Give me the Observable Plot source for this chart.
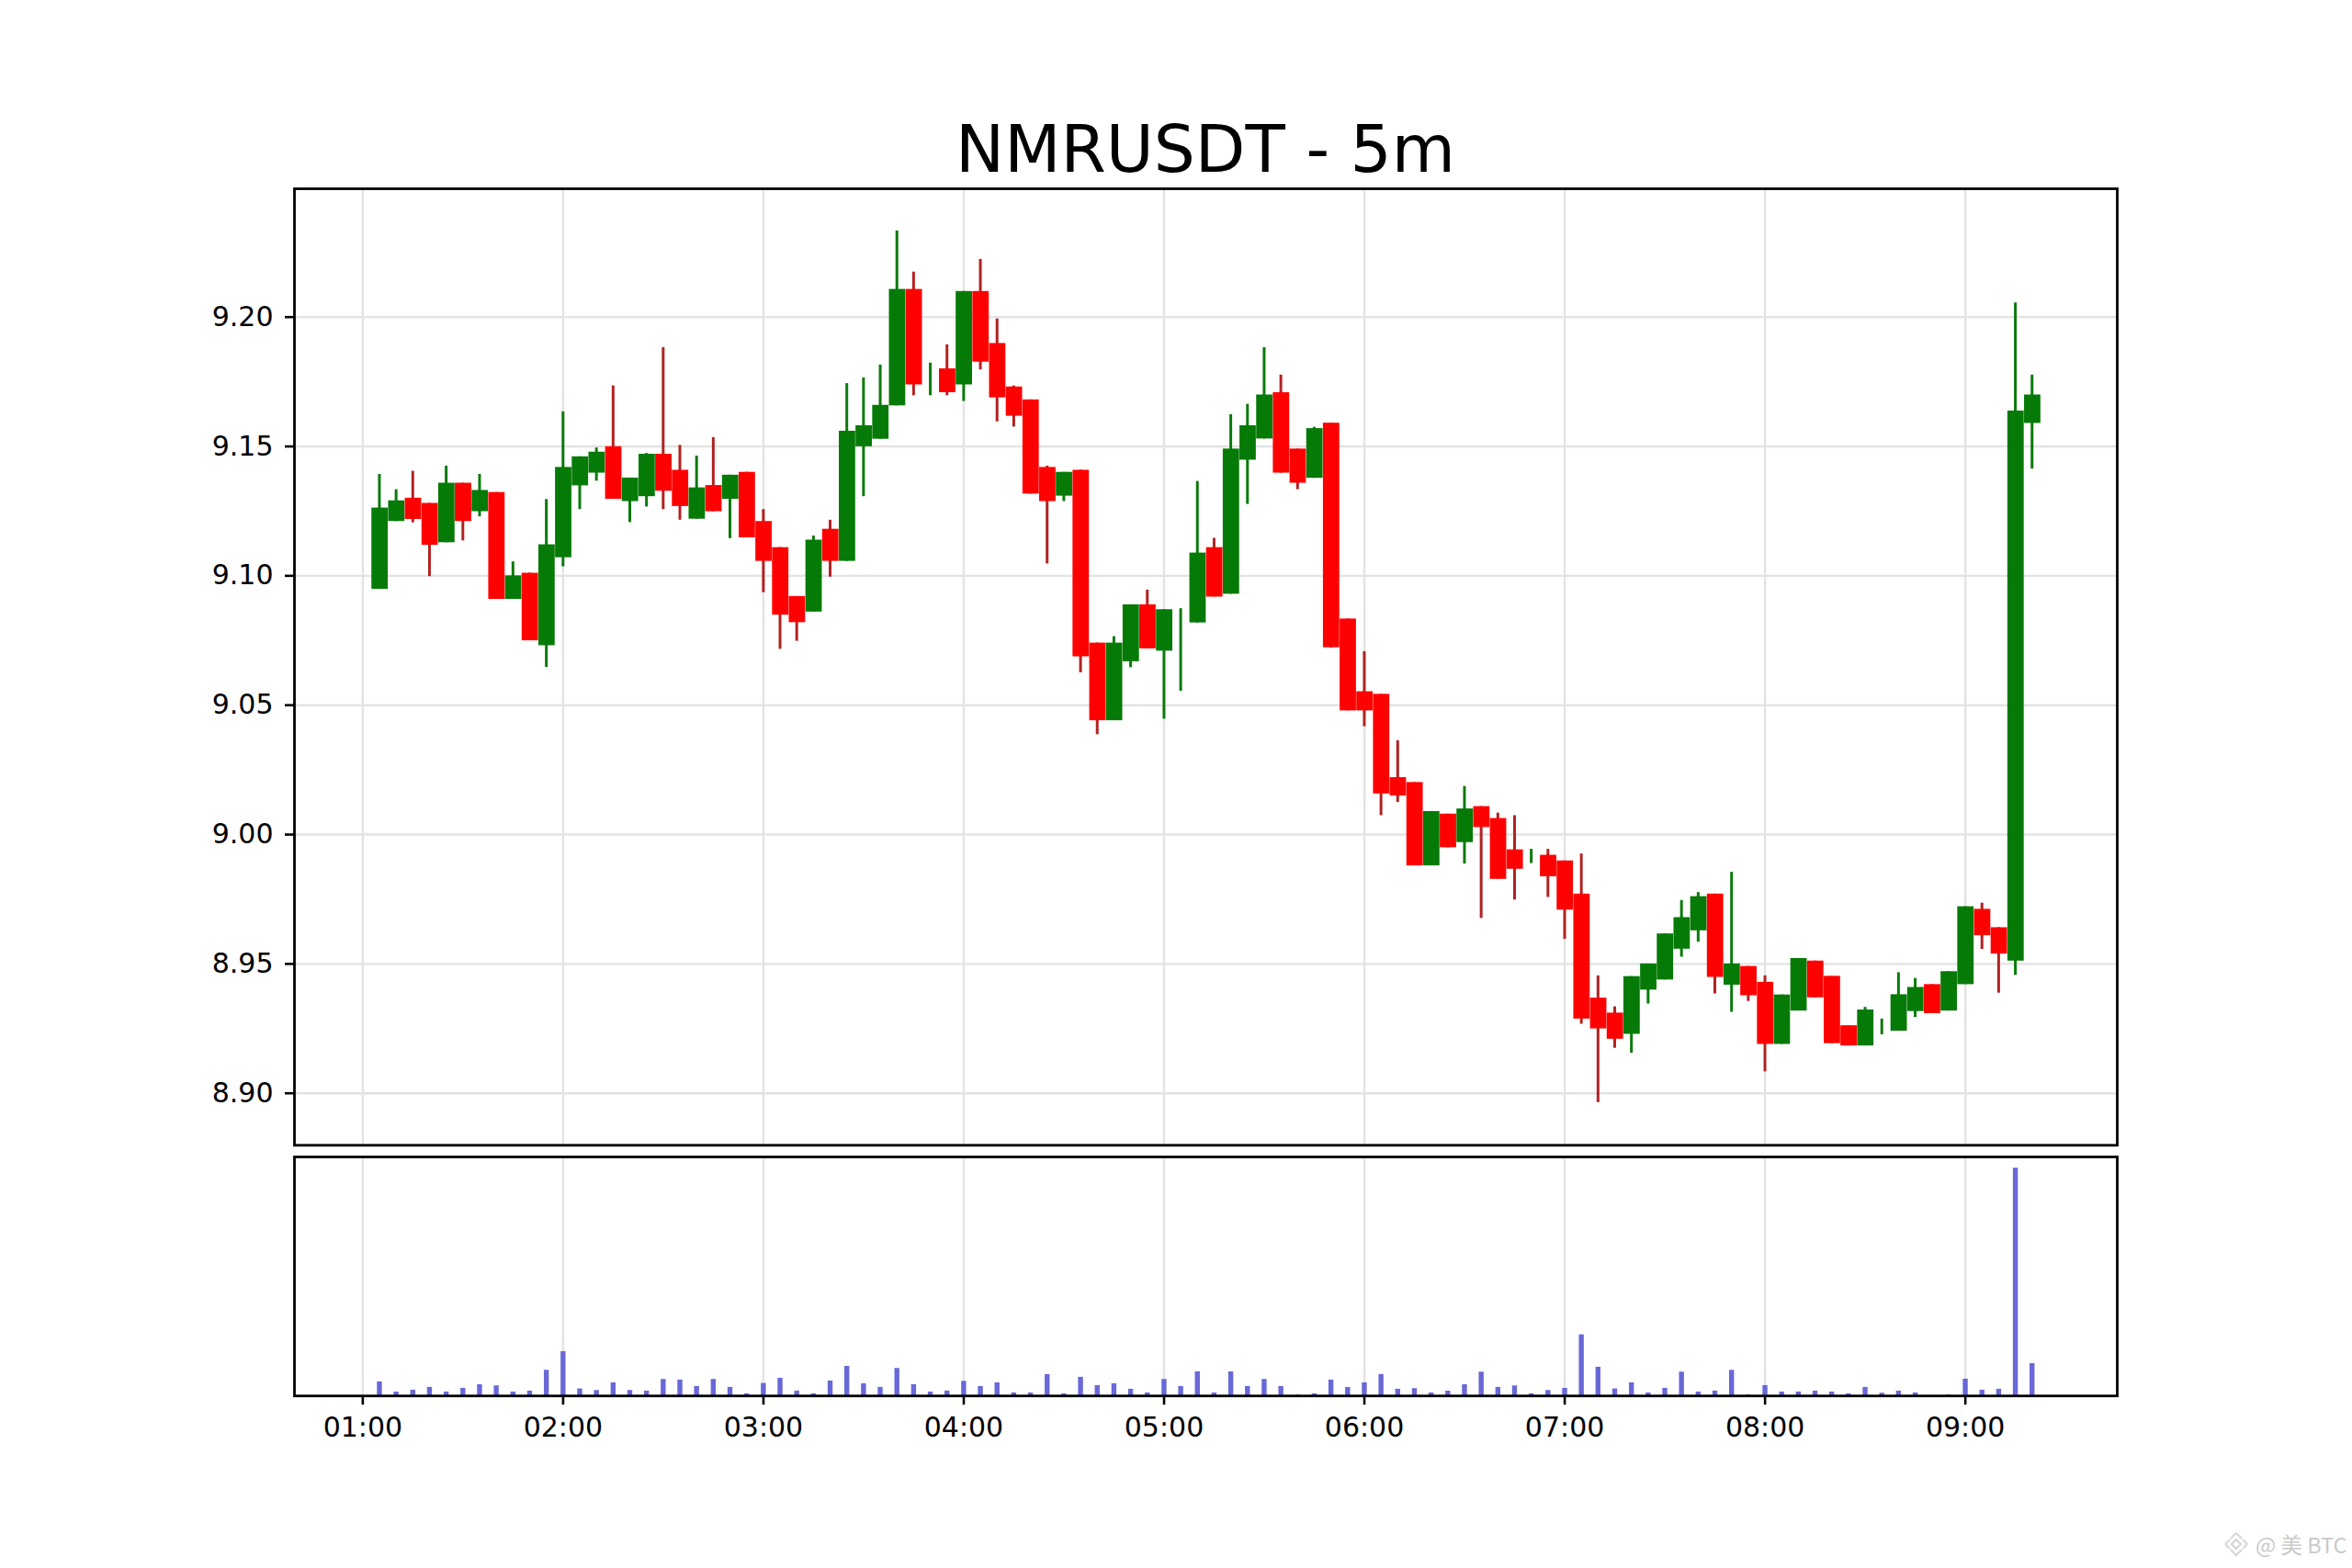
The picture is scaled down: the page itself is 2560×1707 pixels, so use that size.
<!DOCTYPE html>
<html>
<head>
<meta charset="utf-8">
<script src="https://cdn.jsdelivr.net/npm/d3@7"></script>
<script src="https://cdn.jsdelivr.net/npm/@observablehq/plot@0.6"></script>
<style>
html,body{margin:0;padding:0;background:#fff;}
#page{position:relative;width:2560px;height:1707px;overflow:hidden;font-family:"DejaVu Sans",sans-serif;}
#title{box-sizing:border-box;height:203px;padding-top:126.7px;margin-left:320px;width:1984px;text-align:center;font-size:71px;line-height:71px;color:#000;white-space:nowrap;}
#mark{position:absolute;left:2455px;top:1666px;font-family:"Noto Sans CJK SC","Noto Sans",sans-serif;font-size:23.5px;line-height:30px;color:#cacaca;white-space:nowrap;}
#logo{position:absolute;left:2419px;top:1666px;}
</style>
</head>
<body>
<div id="page">
<div id="title">NMRUSDT - 5m</div>
<svg id="logo" width="30" height="30" viewBox="0 0 30 30" fill="none" stroke="#d8d8d8" stroke-width="2.4">
<path d="M15 3 L21 9 M15 3 L9 9 M3 15 L8 10 M27 15 L22 10 M3 15 L8 20 M27 15 L22 20 M9 21 L15 27 L21 21"/>
<rect x="11.5" y="11.5" width="7" height="7" transform="rotate(45 15 15)"/>
</svg>
<div id="mark">@ 美 BTC</div>
</div>
<script>
const times = ["01:05","01:10","01:15","01:20","01:25","01:30","01:35","01:40","01:45","01:50","01:55","02:00",
"02:05","02:10","02:15","02:20","02:25","02:30","02:35","02:40","02:45","02:50","02:55","03:00",
"03:05","03:10","03:15","03:20","03:25","03:30","03:35","03:40","03:45","03:50","03:55","04:00",
"04:05","04:10","04:15","04:20","04:25","04:30","04:35","04:40","04:45","04:50","04:55","05:00",
"05:05","05:10","05:15","05:20","05:25","05:30","05:35","05:40","05:45","05:50","05:55","06:00",
"06:05","06:10","06:15","06:20","06:25","06:30","06:35","06:40","06:45","06:50","06:55","07:00",
"07:05","07:10","07:15","07:20","07:25","07:30","07:35","07:40","07:45","07:50","07:55","08:00",
"08:05","08:10","08:15","08:20","08:25","08:30","08:35","08:40","08:45","08:50","08:55","09:00",
"09:05","09:10","09:15","09:20"];
const open = [9.0948,9.121,9.13,9.128,9.1128,9.1358,9.1248,9.1322,9.0909,9.101,
9.073,9.107,9.1348,9.1397,9.1499,9.1287,9.1306,9.147,9.1408,9.1219,
9.1349,9.1296,9.14,9.121,9.1109,9.092,9.086,9.118,9.1056,9.1499,
9.1528,9.1657,9.2107,9.175,9.18,9.1738,9.2099,9.1898,9.173,9.168,
9.1419,9.1308,9.1408,9.074,9.044,9.0668,9.0888,9.0709,9.07,9.0818,
9.1109,9.0929,9.1447,9.1529,9.1708,9.149,9.1377,9.159,9.0833,9.0552,
9.0542,9.022,9.0201,8.9879,9.0079,8.9969,9.0108,9.0062,8.9941,8.9915,
8.992,8.9898,8.977,8.9368,8.931,8.9228,8.9399,8.9438,8.9557,8.9628,
8.977,8.9418,8.949,8.9429,8.9189,8.9318,8.9511,8.9452,8.9261,8.9183,
8.9255,8.924,8.9316,8.942,8.9318,8.942,8.9711,8.964,8.9511,9.1589];
const close = [9.1262,9.129,9.1218,9.1118,9.1358,9.121,9.133,9.0909,9.1,9.0749,
9.112,9.1419,9.146,9.1478,9.1296,9.1378,9.147,9.1327,9.1268,9.134,
9.1248,9.1389,9.1147,9.1056,9.0848,9.0819,9.1138,9.1056,9.1559,9.158,
9.1659,9.2107,9.1738,9.175,9.1708,9.2099,9.1826,9.1688,9.1617,9.1316,
9.1287,9.14,9.0687,9.044,9.074,9.0888,9.0718,9.0869,9.07,9.1088,
9.0918,9.149,9.158,9.1699,9.1397,9.1358,9.1569,9.0722,9.0478,9.0478,
9.0157,9.0149,8.9879,9.0089,8.9949,9.0099,9.0027,8.9827,8.9866,8.9915,
8.9837,8.9708,8.9287,8.9249,8.9209,8.9451,8.95,8.9616,8.9679,8.976,
8.9448,8.95,8.9377,8.9189,8.938,8.9521,8.9369,8.9192,8.9183,8.9322,
8.9255,8.9381,8.9409,8.9308,8.947,8.9721,8.9609,8.9538,9.1637,9.1699];
const high = [9.1392,9.1333,9.1404,9.128,9.1424,9.1358,9.1392,9.1322,9.1054,9.101,
9.1295,9.1634,9.146,9.1494,9.1734,9.1378,9.1473,9.1882,9.1504,9.1463,
9.1534,9.1389,9.14,9.1256,9.1109,9.092,9.1154,9.1215,9.1743,9.1765,
9.1815,9.2333,9.2174,9.1822,9.1893,9.2099,9.2223,9.1993,9.1734,9.168,
9.1424,9.14,9.1408,9.074,9.0765,9.0888,9.0945,9.0869,9.0873,9.1365,
9.1145,9.1623,9.1663,9.1882,9.1776,9.149,9.1574,9.159,9.0833,9.0707,
9.0542,9.0363,9.0201,9.0089,9.0079,9.0186,9.0108,9.0083,9.0073,8.9943,
8.9943,8.9898,8.9925,8.9454,8.9334,8.9451,8.95,8.9616,8.9745,8.9776,
8.977,8.9854,8.949,8.9454,8.938,8.9521,8.9511,8.9452,8.9261,8.9332,
8.9287,8.9466,8.9444,8.942,8.947,8.9721,8.9735,8.964,9.2055,9.1776];
const low = [9.0948,9.121,9.1205,9.0997,9.1128,9.1135,9.1228,9.0909,9.0909,9.0749,
9.0646,9.1035,9.1256,9.1366,9.1296,9.1206,9.1266,9.1256,9.1215,9.1219,
9.1248,9.1144,9.1147,9.0935,9.0716,9.0747,9.086,9.0995,9.1056,9.1306,
9.1528,9.1657,9.1696,9.1696,9.1696,9.1674,9.1796,9.1595,9.1575,9.1316,
9.1046,9.1287,9.0625,9.0386,9.044,9.0645,9.0718,9.0446,9.0554,9.0818,
9.0918,9.0929,9.1276,9.1529,9.1397,9.1333,9.1377,9.0722,9.0478,9.0417,
9.0073,9.0124,8.9879,8.9879,8.9949,8.9886,8.9676,8.9827,8.9747,8.9888,
8.9757,8.9595,8.9267,8.8964,8.9174,8.9155,8.9345,8.9438,8.9526,8.9584,
8.9384,8.9313,8.9355,8.9083,8.9189,8.9318,8.9369,8.9192,8.9183,8.9183,
8.9226,8.924,8.9293,8.9308,8.9318,8.942,8.9556,8.9387,8.9456,9.1413];
const volume = [46,13,19,28,13,25,37,33,13,16,84,145,23,18,43,18,16,54,52,31,
54,28,7,41,58,16,7,49,97,40,28,90,37,13,16,48,31,43,10,10,
70,7,61,34,40,22,10,54,31,79,10,79,31,54,31,3,7,52,28,43,
70,22,24,10,16,37,78,28,33,7,18,25,200,94,23,43,10,25,78,13,
16,84,3,34,13,13,16,13,7,28,9,16,10,1,3,55,19,22,745,106];
const hourTicks = ["01:00","02:00","03:00","04:00","05:00","06:00","07:00","08:00","09:00"];
const priceTicks = [8.90,8.95,9.00,9.05,9.10,9.15,9.20];
const xRange = ["00:39:22","09:45:20"];
const priceRange = [8.8799,9.2496];
const volumeRange = [0,782];

const toDate = t => new Date(`2024-01-01T${t.length === 5 ? t + ":00" : t}Z`);
const halfBody = 2.45 * 60000;
const rows = times.map((t, i) => ({
  t: toDate(t),
  x1: new Date(+toDate(t) - halfBody),
  x2: new Date(+toDate(t) + halfBody),
  open: open[i], close: close[i], high: high[i], low: low[i], volume: volume[i],
  up: close[i] >= open[i]
}));
const hourDates = hourTicks.map(toDate);
const xDomain = xRange.map(toDate);
const ups = rows.filter(d => d.up), downs = rows.filter(d => !d.up);
const gridColor = "#e3e3e3";
const tickFont = 30;
const base = {fontFamily: "DejaVu Sans", fontSize: tickFont + "px", background: "transparent", color: "#000", overflow: "visible"};

const price = Plot.plot({
  width: 2560, height: 1045, marginLeft: 320, marginRight: 256, marginTop: 2, marginBottom: 1.7,
  style: base,
  x: {type: "utc", domain: xDomain, axis: null},
  y: {domain: priceRange},
  marks: [
    Plot.gridX(hourDates, {stroke: gridColor, strokeOpacity: 1, strokeWidth: 2.4, dx: -0.6}),
    Plot.gridY(priceTicks, {stroke: gridColor, strokeOpacity: 1, strokeWidth: 2.4}),
    Plot.ruleX(ups, {x: "t", y1: "low", y2: "high", stroke: "#0b7a0b", strokeWidth: 3, dx: -0.7}),
    Plot.ruleX(downs, {x: "t", y1: "low", y2: "high", stroke: "#b22222", strokeWidth: 3, dx: -0.7}),
    Plot.rect(ups, {x1: "x1", x2: "x2", y1: "open", y2: "close", fill: "#067a06"}),
    Plot.rect(downs, {x1: "x1", x2: "x2", y1: "open", y2: "close", fill: "#ff0000"}),
    Plot.axisY({ticks: priceTicks, tickFormat: ".2f", tickSize: 10, tickPadding: 13, strokeWidth: 2.6, label: null, fontSize: tickFont}),
    Plot.frame({stroke: "#000", strokeWidth: 2.8})
  ]
});

const vol = Plot.plot({
  width: 2560, height: 459, marginLeft: 320, marginRight: 256, marginTop: 11, marginBottom: 187.8,
  style: base,
  x: {type: "utc", domain: xDomain, axis: null},
  y: {domain: volumeRange, axis: null},
  marks: [
    Plot.gridX(hourDates, {stroke: gridColor, strokeOpacity: 1, strokeWidth: 2.4, dx: -0.6}),
    Plot.ruleX(rows, {x: "t", y1: 0, y2: "volume", stroke: "#6868d8", strokeWidth: 5.4, dx: -0.7}),
    Plot.axisX({ticks: hourDates, tickFormat: d3.utcFormat("%H:%M"), tickSize: 10, tickPadding: 13, strokeWidth: 2.6, label: null, fontSize: tickFont, dx: -0.6}),
    Plot.frame({stroke: "#000", strokeWidth: 2.8})
  ]
});

const page = document.getElementById("page");
page.insertBefore(price, document.getElementById("logo"));
page.insertBefore(vol, document.getElementById("logo"));
</script>
</body>
</html>
